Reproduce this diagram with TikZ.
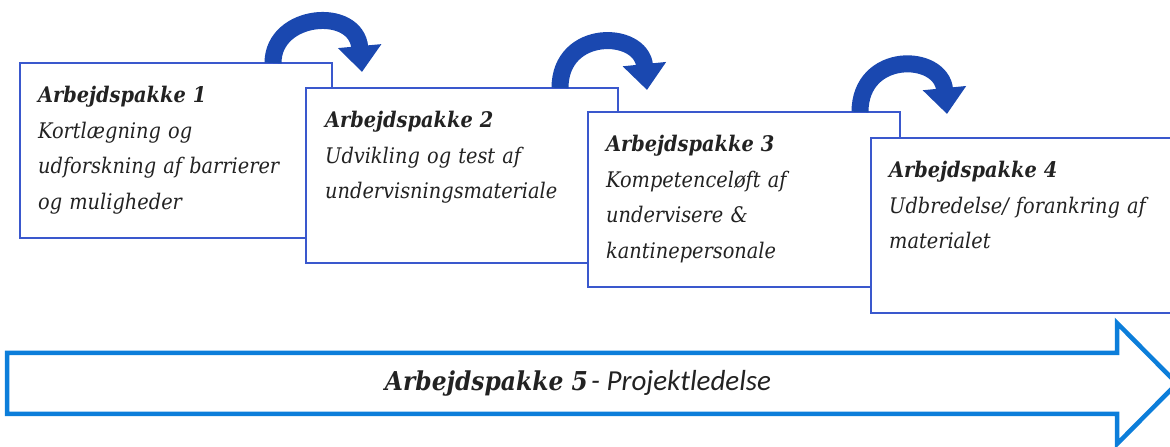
\documentclass[tikz,border=0pt]{standalone}
\usepackage{fontspec}
\usepackage{tikz}
\usetikzlibrary{positioning,arrows.meta}
\newfontfamily\pkgfont{DejaVu Serif Condensed}
\newfontfamily\ledfont{Carlito}
\definecolor{boxblue}{RGB}{58,88,205}
\definecolor{hopblue}{RGB}{26,72,176}
\definecolor{bigblue}{RGB}{12,126,218}
\definecolor{inkgray}{RGB}{34,34,34}

\begin{document}
\begin{tikzpicture}[x=1pt, y=1pt,
    pkgbox/.style = {shape=rectangle, draw=boxblue, line width=1.8pt, fill=white,
                     minimum width=312pt, minimum height=175pt, anchor=north west,
                     inner sep=0pt, outer sep=0pt},
    pkgtext/.style = {inner sep=0pt, text width=290pt, align=left, text=inkgray,
                      font=\pkgfont\itshape\fontsize{21.5}{35.5}\selectfont},
    hop/.style = {draw=hopblue, line width=17pt, -{Triangle[width=42pt, length=26pt]}}]
  \useasboundingbox (0,0) rectangle (1170,447);

  % work packages, each one overlapping the one before
  \node[pkgbox] (box1) at (20,384) {};
  \node[pkgtext, below right=23pt and 18pt of box1.north west] (txt1)
    {{\bfseries Arbejdspakke 1}\\ Kortlægning og\\ udforskning af barrierer\\ og muligheder};
  \node[pkgbox] (box2) at (306,359) {};
  \node[pkgtext, below right=23pt and 19pt of box2.north west] (txt2)
    {{\bfseries Arbejdspakke 2}\\ Udvikling og test af\\ undervisningsmateriale};
  \node[pkgbox] (box3) at (588,335) {};
  \node[pkgtext, below right=23pt and 18pt of box3.north west] (txt3)
    {{\bfseries Arbejdspakke 3}\\ Kompetenceløft af\\ undervisere \&\\ kantinepersonale};
  \node[pkgbox] (box4) at (871,309) {};
  \node[pkgtext, below right=23pt and 18pt of box4.north west] (txt4)
    {{\bfseries Arbejdspakke 4}\\ Udbredelse/ forankring af\\ materialet};

  % hops from one package to the next
  \draw[hop] ([xshift=-59pt]box1.north east) .. controls +(0,50) and +(-6,66) .. ([xshift=56pt,yshift=16pt]box2.north west);
  \draw[hop] ([xshift=-58pt]box2.north east) .. controls +(0,60) and +(-6,60) .. ([xshift=59pt,yshift=22pt]box3.north west);
  \draw[hop] ([xshift=-40pt]box3.north east) .. controls +(0,61) and +(-6,61) .. ([xshift=76pt,yshift=24pt]box4.north west);

  % project management underneath
  \draw[bigblue, line width=4.5pt] (7,94) -- (1117,94) -- (1117,124) -- (1177,63.5)
    -- (1117,3) -- (1117,33) -- (7,33) -- cycle;
  \node[text=inkgray] (wp5) at (578,64)
    {{\pkgfont\bfseries\itshape\fontsize{26}{30}\selectfont Arbejdspakke 5}
     {\ledfont\itshape\fontsize{29}{30}\selectfont - Projektledelse}};
\end{tikzpicture}
\end{document}
